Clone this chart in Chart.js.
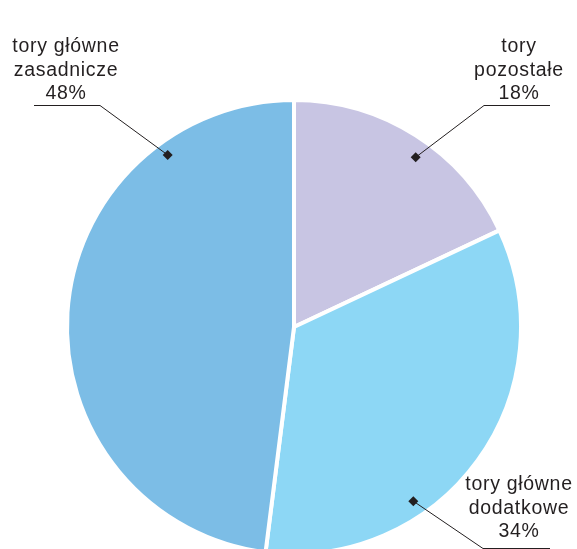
<!DOCTYPE html>
<html>
<head>
<meta charset="utf-8">
<script src="https://cdn.jsdelivr.net/npm/chart.js@4/dist/chart.umd.min.js"></script>
<style>
  html, body { margin: 0; padding: 0; background: #fff; overflow: hidden; }
  #wrap { width: 577px; height: 549px; overflow: hidden; }
</style>
</head>
<body>
<div id="wrap"><canvas id="pieChart" width="577" height="556"></canvas></div>
<script>
// Track types and their shares (%)
const categories = ["tory pozostałe", "tory główne dodatkowe", "tory główne zasadnicze"];
const shares = [18, 34, 48];
const labelLines = [
  ["tory", "pozostałe"],
  ["tory główne", "dodatkowe"],
  ["tory główne", "zasadnicze"]
];
const colors = ["#c8c5e3", "#8dd7f5", "#7cbde6"];

// Where each callout sits: text centre, first baseline, underline span, marker position in the slice
const callouts = [
  { x: 519, y: 52, lineY: 105, lineFrom: 550, lineTo: 484, t: 0.55, r: 0.92 },
  { x: 519, y: 490, lineY: 548, lineFrom: 550, lineTo: 483, t: 0.66, r: 0.93 },
  { x: 66, y: 52, lineY: 105, lineFrom: 34, lineTo: 100, t: 0.79, r: 0.94 }
];

const calloutPlugin = {
  id: "callouts",
  afterDatasetsDraw(chart) {
    const ctx = chart.ctx;
    const arcs = chart.getDatasetMeta(0).data;
    ctx.save();
    ctx.font = "19.5px 'Liberation Sans', Arial, sans-serif";
    ctx.letterSpacing = "0.7px";
    ctx.fillStyle = "#231f20";
    ctx.textAlign = "center";
    ctx.textBaseline = "alphabetic";
    arcs.forEach((arc, i) => {
      const c = callouts[i];
      const lines = labelLines[i].concat([shares[i] + "%"]);
      lines.forEach((txt, k) => ctx.fillText(txt, c.x, c.y + k * 23.5));

      // marker inside the slice
      const ang = arc.startAngle + c.t * (arc.endAngle - arc.startAngle);
      const mx = arc.x + Math.cos(ang) * arc.outerRadius * c.r;
      const my = arc.y + Math.sin(ang) * arc.outerRadius * c.r;

      ctx.strokeStyle = "#231f20";
      ctx.lineWidth = 1;
      ctx.beginPath();
      ctx.moveTo(c.lineFrom, c.lineY + 0.5);
      ctx.lineTo(c.lineTo, c.lineY + 0.5);
      ctx.lineTo(mx, my);
      ctx.stroke();

      ctx.beginPath();
      ctx.moveTo(mx, my - 5);
      ctx.lineTo(mx + 5, my);
      ctx.lineTo(mx, my + 5);
      ctx.lineTo(mx - 5, my);
      ctx.closePath();
      ctx.fill();
    });
    ctx.restore();
  }
};

new Chart(document.getElementById("pieChart"), {
  type: "pie",
  data: {
    labels: categories,
    datasets: [{
      data: shares,
      backgroundColor: colors,
      borderColor: "#ffffff",
      borderWidth: 4
    }]
  },
  options: {
    responsive: false,
    animation: false,
    layout: { padding: { left: 65, right: 54, top: 98, bottom: 0 } },
    plugins: {
      legend: { display: false },
      tooltip: { enabled: false }
    }
  },
  plugins: [calloutPlugin]
});
</script>
</body>
</html>
